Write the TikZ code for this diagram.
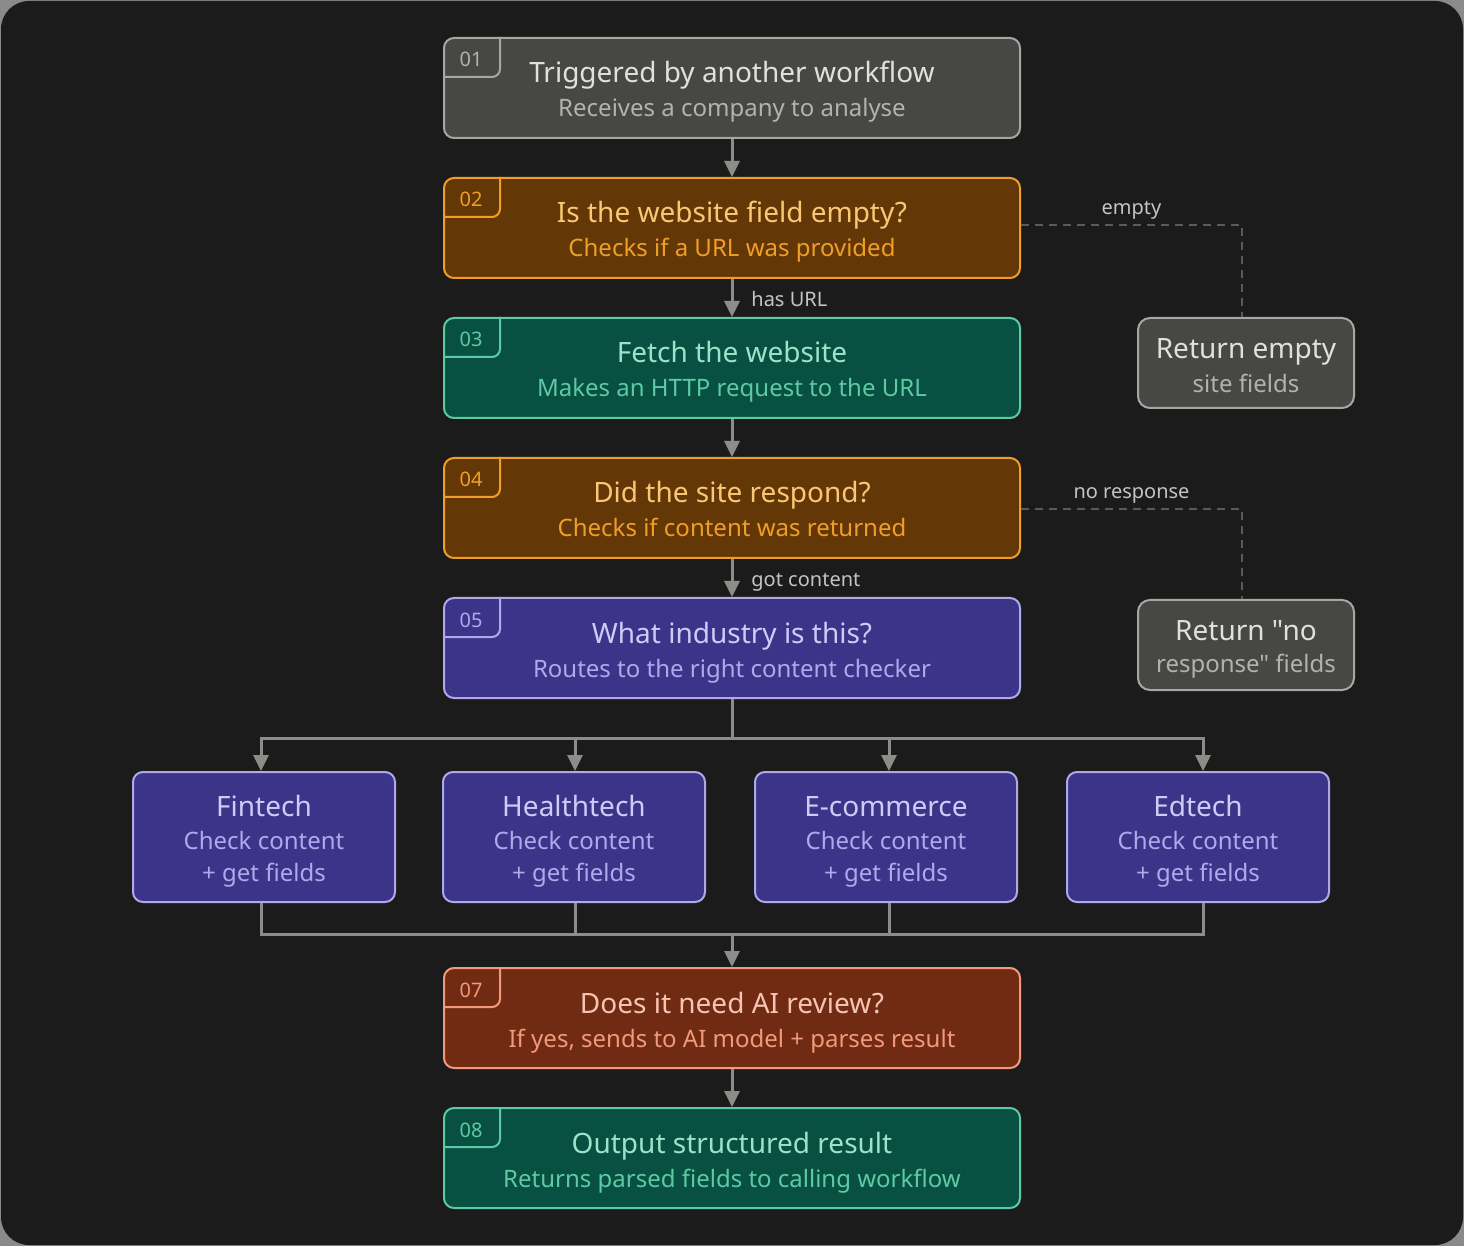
\documentclass[tikz,border=0pt]{standalone}
\usepackage{fontspec}
\setmainfont{Noto Sans}[Ligatures=TeXOff]
\usetikzlibrary{arrows.meta,calc}
\definecolor{outergray}{HTML}{8A8A88}
\definecolor{bgdark}{HTML}{1B1B1B}
\definecolor{grayfill}{HTML}{474745}
\definecolor{grayline}{HTML}{A8A6A0}
\definecolor{graytitle}{HTML}{E2E0DA}
\definecolor{graysub}{HTML}{B4B2AC}
\definecolor{amberfill}{HTML}{633806}
\definecolor{amberline}{HTML}{EF9F27}
\definecolor{ambertitle}{HTML}{FAC775}
\definecolor{ambersub}{HTML}{EF9F27}
\definecolor{tealfill}{HTML}{085041}
\definecolor{tealline}{HTML}{5DCAA5}
\definecolor{tealtitle}{HTML}{9FE1CB}
\definecolor{tealsub}{HTML}{5DCAA5}
\definecolor{purpfill}{HTML}{3C3489}
\definecolor{purpline}{HTML}{AFA9EC}
\definecolor{purptitle}{HTML}{CECBF6}
\definecolor{purpsub}{HTML}{AFA9EC}
\definecolor{coralfill}{HTML}{712B13}
\definecolor{coralline}{HTML}{F0997B}
\definecolor{coraltitle}{HTML}{F5C4B3}
\definecolor{coralsub}{HTML}{F0997B}
\definecolor{connector}{HTML}{8C8C88}
\definecolor{dashcol}{HTML}{5A5A58}
\definecolor{lblcol}{HTML}{C4C4C0}
\tikzset{
  mainbox/.style={draw, line width=1pt, rounded corners=5pt, minimum width=288pt, minimum height=50pt, inner sep=0pt},
  sidebox/.style={draw=grayline, fill=grayfill, line width=1pt, rounded corners=6pt, minimum width=108pt, minimum height=45pt, inner sep=0pt},
  indbox/.style={draw=purpline, fill=purpfill, line width=1pt, rounded corners=5pt, minimum width=131pt, minimum height=65pt, inner sep=0pt},
  titletxt/.style={font=\fontsize{14}{16}\selectfont, inner sep=0pt, text height=0.75em, text depth=0.25em},
  subtxt/.style={font=\fontsize{12}{14}\selectfont, inner sep=0pt, text height=0.75em, text depth=0.25em},
  numtxt/.style={font=\fontsize{10}{12}\selectfont, inner sep=0pt, text height=0.75em, text depth=0.25em},
  lbltxt/.style={font=\fontsize{10}{12}\selectfont, text=lblcol, inner sep=0pt, text height=0.75em, text depth=0.25em},
  flow/.style={draw=connector, line width=1.5pt, -{Triangle[width=7.5pt,length=8pt]}},
  plainline/.style={draw=connector, line width=1.5pt},
  dashline/.style={draw=dashcol, line width=0.8pt, dash pattern=on 4pt off 3pt},
}
\newcommand\stepbox[6]{%
  \node[mainbox, fill=#3fill, draw=#3line] (#1) at (732,#2) {};
  \draw[#3line, line width=1pt, rounded corners=4pt] ($(#1.north west)+(57,0)$) |- ($(#1.north west)+(0,40)$);
  \node[numtxt, text=#3sub] (#1n) at ($(#1.north west)+(28,25)$) {#4};
  \node[titletxt, text=#3title] (#1t) at ($(#1.center)+(0,-10)$) {#5};
  \node[subtxt, text=#3sub] (#1s) at ($(#1.center)+(0,24)$) {#6};
}
\newcommand\industry[3]{%
  \node[indbox] (#1) at (#2,837) {};
  \node[titletxt, text=purptitle] (#1t) at ($(#1.center)+(0,-26)$) {#3};
  \node[subtxt, text=purpsub] (#1a) at ($(#1.center)+(0,7)$) {Check content};
  \node[subtxt, text=purpsub] (#1b) at ($(#1.center)+(0,39)$) {+ get fields};
}
\begin{document}
\begin{tikzpicture}[x=0.5pt,y=-0.5pt]
\useasboundingbox (0,0) rectangle (1464,1246);
\fill[outergray] (0,0) rectangle (1464,1246);
\fill[bgdark, rounded corners=14pt] (1,1) rectangle (1463,1245);

\stepbox{b01}{88}{gray}{01}{Triggered by another workflow}{Receives a company to analyse}
\stepbox{b02}{228}{amber}{02}{Is the website field empty?}{Checks if a URL was provided}
\stepbox{b03}{368}{teal}{03}{Fetch the website}{Makes an HTTP request to the URL}
\stepbox{b04}{508}{amber}{04}{Did the site respond?}{Checks if content was returned}
\stepbox{b05}{648}{purp}{05}{What industry is this?}{Routes to the right content checker}
\stepbox{b07}{1018}{coral}{07}{Does it need AI review?}{If yes, sends to AI model + parses result}
\stepbox{b08}{1158}{teal}{08}{Output structured result}{Returns parsed fields to calling workflow}

% side boxes
\node[sidebox] (rempty) at (1246,363) {};
\node[titletxt, text=graytitle] (remptyt) at ($(rempty.center)+(0,-9)$) {Return empty};
\node[subtxt, text=graysub] (remptys) at ($(rempty.center)+(0,25)$) {site fields};
\node[sidebox] (rnoresp) at (1246,645) {};
\node[titletxt, text=graytitle] (rnorespt) at ($(rnoresp.center)+(0,-10)$) {Return "no};
\node[subtxt, text=graysub] (rnoresps) at ($(rnoresp.center)+(0,23)$) {response" fields};

% industry boxes
\industry{fin}{264}{Fintech}
\industry{health}{574}{Healthtech}
\industry{ecom}{886}{E-commerce}
\industry{edtech}{1198}{Edtech}

% main flow
\draw[flow] (b01.south) -- (b02.north);
\draw[flow] (b02.south) -- (b03.north);
\draw[flow] (b03.south) -- (b04.north);
\draw[flow] (b04.south) -- (b05.north);
\draw[flow] (b07.south) -- (b08.north);

\node[lbltxt, anchor=west] (lhas) at ($(b02.south)!0.5!(b03.north)+(19,4)$) {has URL};
\node[lbltxt, anchor=west] (lgot) at ($(b04.south)!0.5!(b05.north)+(19,4)$) {got content};

% dashed branches
\draw[dashline] (b02.east |- 0,225) -| ($(rempty.north)+(-4,0)$) node[pos=0.25, lbltxt, yshift=7.5pt] (lempty) {empty};
\draw[dashline] (b04.east |- 0,509) -| ($(rnoresp.north)+(-4,0)$) node[pos=0.25, lbltxt, yshift=7.5pt] (lnoresp) {no response};

% fan out
\coordinate (busA) at (732,738);
\coordinate (busB) at (732,934);
\draw[plainline] (b05.south) -- (busA);
\draw[flow] (busA) -| ($(fin.north)+(-3,0)$);
\draw[flow] (busA) -| ($(health.north)+(1,0)$);
\draw[flow] (busA) -| ($(ecom.north)+(3,0)$);
\draw[flow] (busA) -| ($(edtech.north)+(5,0)$);

% fan in
\draw[plainline] ($(fin.south)+(-3,0)$) |- (busB);
\draw[plainline] ($(health.south)+(1,0)$) |- (busB);
\draw[plainline] ($(ecom.south)+(3,0)$) |- (busB);
\draw[plainline] ($(edtech.south)+(5,0)$) |- (busB);
\draw[flow] (busB) -- (b07.north);
\end{tikzpicture}
\end{document}
